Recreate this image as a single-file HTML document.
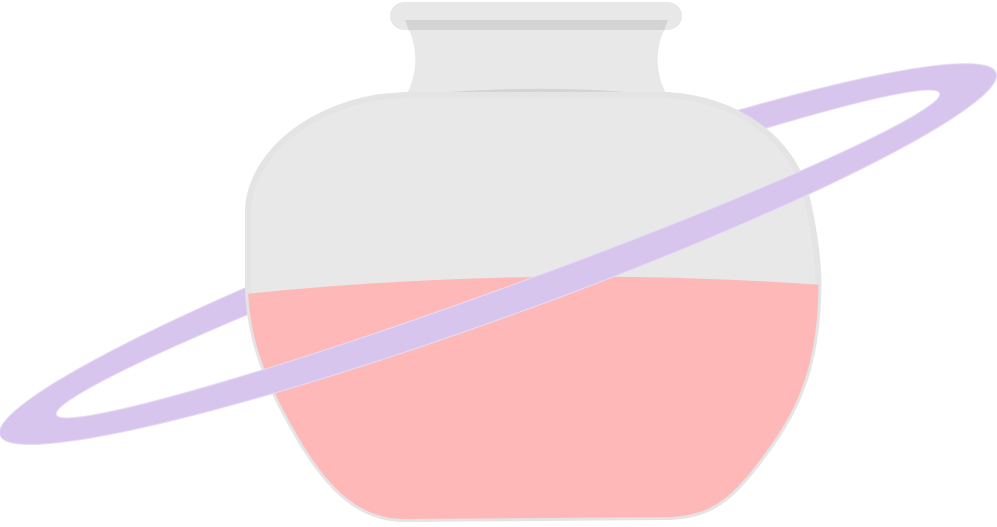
<!DOCTYPE html>
<html><head><meta charset="utf-8"><style>html,body{margin:0;padding:0;background:#fff;width:997px;height:527px;overflow:hidden}</style></head>
<body>
<svg id="chart" width="997" height="527" viewBox="0 0 997 527" xmlns="http://www.w3.org/2000/svg">
<defs>
<clipPath id="bodyClip"><path d="M405 95 L668 95 C740 100 790 140 805 190 C815 230 820 270 818 300 C815 380 790 420 760 460 C730 500 710 515 670 517 L405 519 C360 519 330 490 300 440 C265 380 250 340 248 290 L248 210 C250 160 300 110 380 97 Z"/></clipPath>
<clipPath id="frontClip"><rect x="-100" y="254" width="1200" height="300"/></clipPath>
</defs>
<g transform="rotate(-20 498 254)">
<path fill="#d7c5ee" stroke="#e6dcf5" stroke-width="1" fill-rule="evenodd" d="M-32 254 a530 62 0 1 0 1060 0 a530 62 0 1 0 -1060 0 Z M28 254 a470 34 0 1 0 940 0 a470 34 0 1 0 -940 0 Z"/>
</g>
<rect x="390" y="2" width="292" height="28" rx="14" fill="#e8e8e8"/>
<path d="M405 20 L668 20 L664 31 L409 31 Z" fill="#d4d4d4"/>
<path d="M409 30 L664 30 C655 50 655 75 668 97 L405 97 C418 75 418 50 409 30 Z" fill="#e8e8e8"/>
<path d="M405 97 C480 86 600 86 668 97 Z" fill="#d4d4d4"/>
<path d="M405 95 L668 95 C740 100 790 140 805 190 C815 230 820 270 818 300 C815 380 790 420 760 460 C730 500 710 515 670 517 L405 519 C360 519 330 490 300 440 C265 380 250 340 248 290 L248 210 C250 160 300 110 380 97 Z" fill="#e8e8e8" stroke="#e4e4e4" stroke-width="6"/>
<g clip-path="url(#bodyClip)"><path id="liquid" fill="#ffb8b8"/></g>
<g transform="rotate(-20 498 254)" clip-path="url(#frontClip)">
<path fill="#d7c5ee" stroke="#e6dcf5" stroke-width="1" fill-rule="evenodd" d="M-32 254 a530 62 0 1 0 1060 0 a530 62 0 1 0 -1060 0 Z M28 254 a470 34 0 1 0 940 0 a470 34 0 1 0 -940 0 Z"/>
</g>
</svg>
<script>
const values = [0.56];
const bodyTop = 95, bodyBottom = 519;
function levelY(v){ return bodyBottom - v * (bodyBottom - bodyTop); }
const y = levelY(values[0]);
document.getElementById('liquid').setAttribute('d',
  'M230 ' + (y + 14) + ' Q530 ' + (y - 18) + ' 830 ' + (y + 4) + ' L830 540 L230 540 Z');
</script>
</body></html>
